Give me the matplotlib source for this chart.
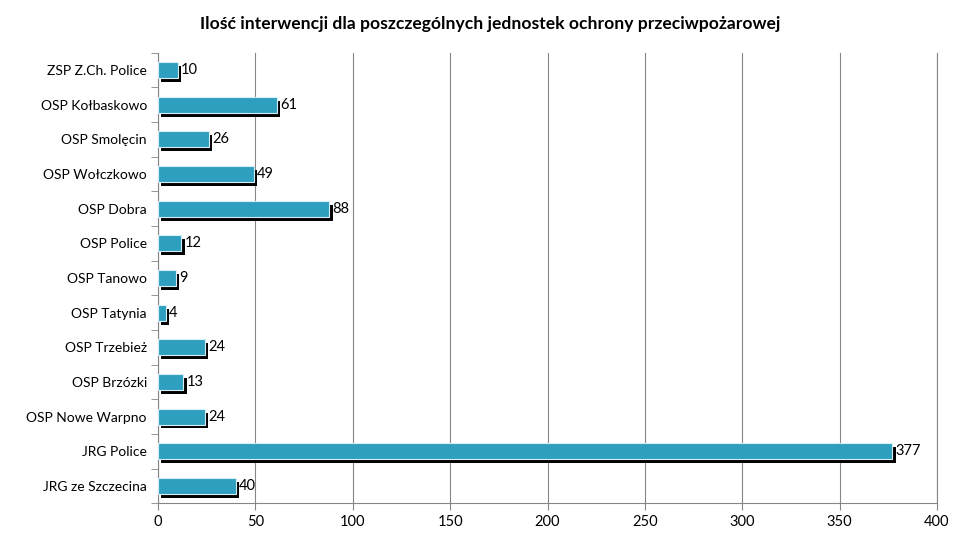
import matplotlib.pyplot as plt
import matplotlib.patheffects as pe

units = ['JRG ze Szczecina', 'JRG Police', 'OSP Nowe Warpno', 'OSP Brzózki',
         'OSP Trzebież', 'OSP Tatynia', 'OSP Tanowo', 'OSP Police', 'OSP Dobra',
         'OSP Wołczkowo', 'OSP Smolęcin', 'OSP Kołbaskowo', 'ZSP Z.Ch. Police']
counts = [40, 377, 24, 13, 24, 4, 9, 12, 88, 49, 26, 61, 10]

plt.rcParams['font.family'] = ['Lato', 'DejaVu Sans']

dpi = 100
fig = plt.figure(dpi=dpi, figsize=(970 / dpi, 550 / dpi))
ax = fig.add_axes([0.163, 0.085, 0.803, 0.819])

bars = ax.barh(range(len(units)), counts, height=0.46, color='#2E9FBF',
               edgecolor='#d8eef5', linewidth=0.8, zorder=3)
for b in bars:
    b.set_path_effects([pe.SimplePatchShadow(offset=(2.4, -2.8), shadow_rgbFace='black', alpha=1),
                        pe.Normal()])

for i, v in enumerate(counts):
    ax.text(v + 1.6, i, str(v), va='center', ha='left', fontsize=10.5, zorder=4)

ax.set_xlim(0, 400)
ax.set_ylim(-0.5, len(units) - 0.5)
ax.set_xticks(range(0, 401, 50))
ax.set_yticks(range(len(units)))
ax.set_yticklabels(units)
ax.tick_params(axis='both', labelsize=10, color='#868686', length=5, direction='out')
ax.tick_params(axis='x', labelsize=10.5)
ax.tick_params(axis='y', pad=8)
ax.set_yticks([i - 0.5 for i in range(len(units) + 1)], minor=True)
ax.tick_params(axis='y', which='minor', length=5, color='#868686')
ax.tick_params(axis='y', which='major', length=0)
ax.grid(axis='x', color='#868686', linewidth=0.8, zorder=0)
ax.axvline(400, color='#868686', linewidth=0.8, zorder=0, clip_on=False)
for s in ['top', 'right']:
    ax.spines[s].set_visible(False)
for s in ['left', 'bottom']:
    ax.spines[s].set_color('#868686')
    ax.spines[s].set_linewidth(0.8)

fig.suptitle('Ilość interwencji dla poszczególnych jednostek ochrony przeciwpożarowej',
             fontsize=12.6, fontweight='bold', x=0.505, y=0.97)

plt.savefig('out.png')
